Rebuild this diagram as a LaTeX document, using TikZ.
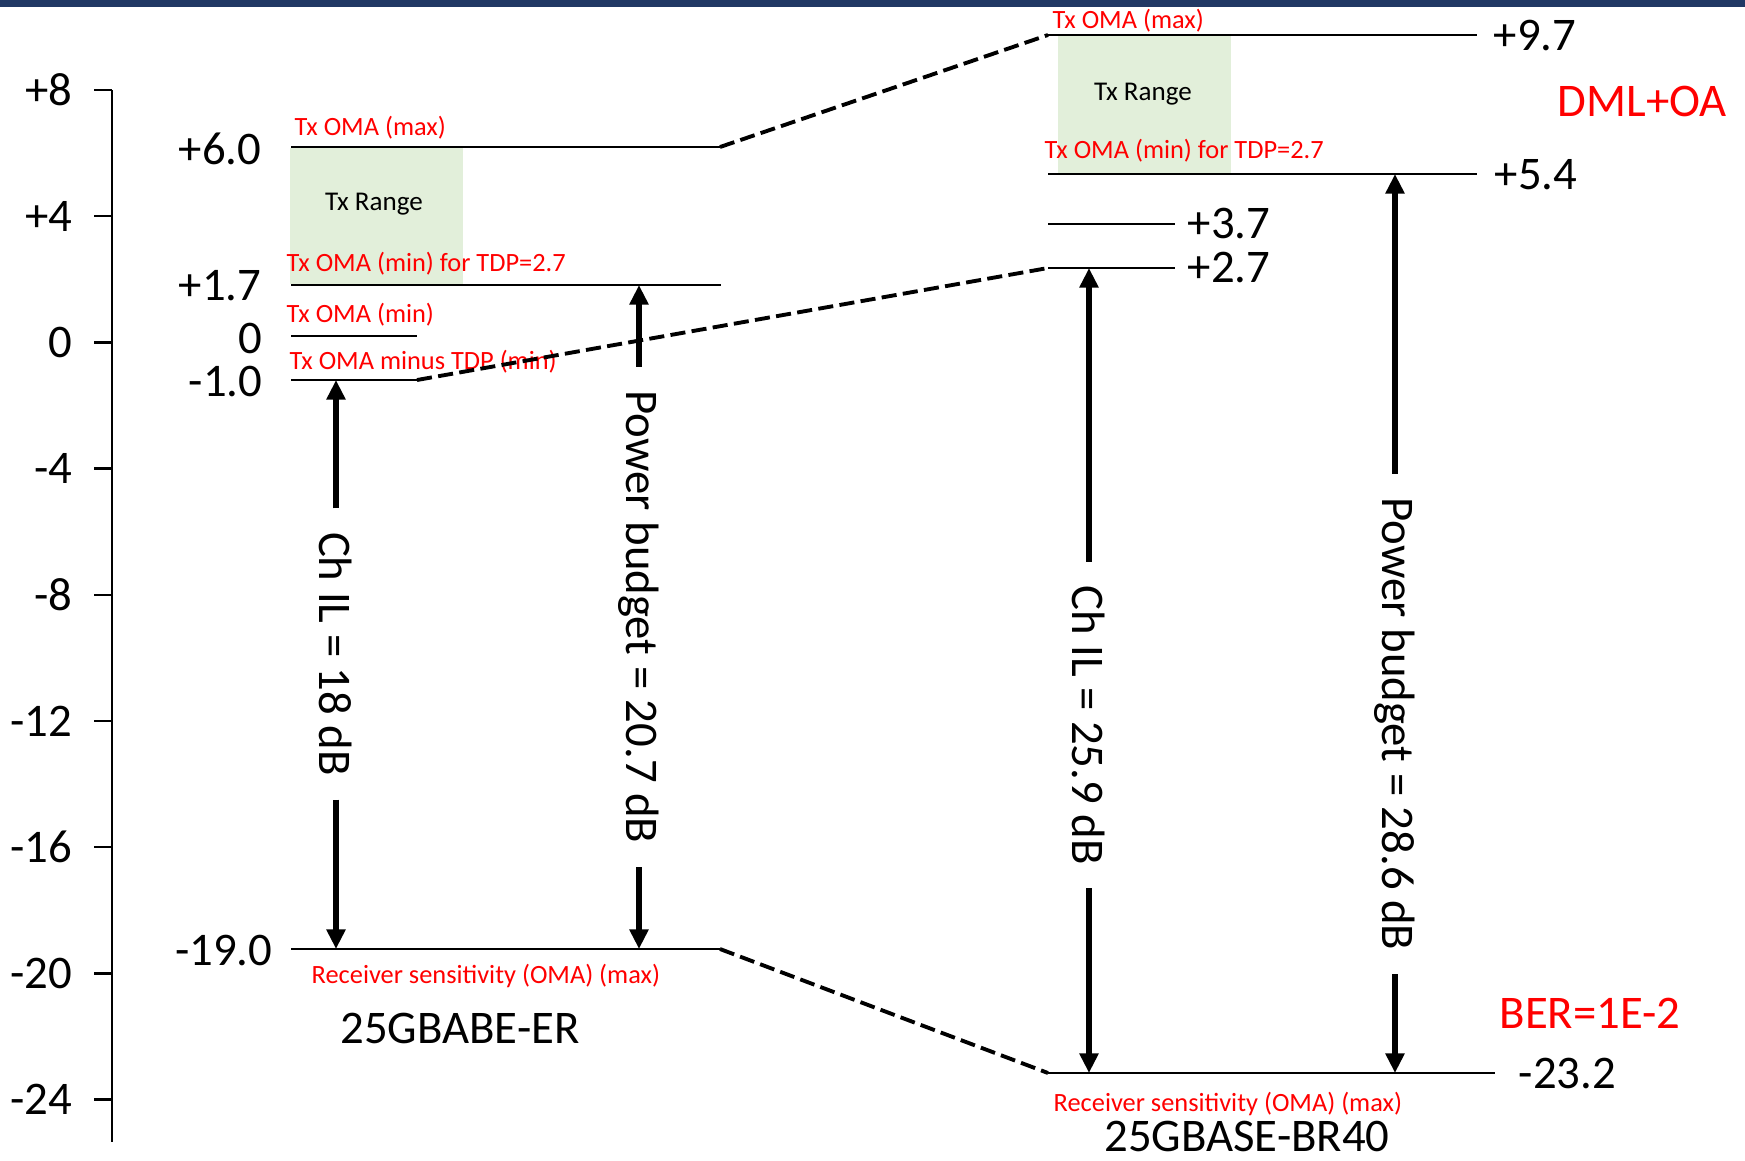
\documentclass[tikz,border=0pt]{standalone}
\usepackage{fontspec}
\setmainfont{Carlito}
\usetikzlibrary{arrows.meta}
\definecolor{barnavy}{HTML}{203864}
\definecolor{rangegreen}{HTML}{E2EFDA}

\begin{document}
\begin{tikzpicture}[x=0.01cm,y=-0.01cm,>={Triangle[width=5.2pt,length=5.6pt]},
  lvl/.style={line width=0.8pt},
  link/.style={line width=1.1pt,dash pattern=on 4.3pt off 1.8pt},
  budget/.style={line width=1.7pt,->},
  big/.style={font=\fontsize{13.3}{16}\selectfont,inner sep=0},
  tag/.style={text=red,font=\fontsize{7.5}{9}\selectfont,inner sep=0,anchor=base west},
  vlab/.style={big,rotate=-90,inner xsep=0.23cm}]
\useasboundingbox (0,0) rectangle (1745,1160);
\fill[barnavy] (0,0) rectangle (1745,7);

% dB scale
\draw[line width=0.7pt] (112,90) -- (112,1142);
\foreach \v/\t in {8/+8,4/+4,0/0,-4/-4,-8/-8,-12/-12,-16/-16,-20/-20,-24/-24}{
  \draw[line width=0.7pt] (94,{342.4-31.55*\v}) -- (112,{342.4-31.55*\v});
  \node[big,anchor=east] (tick\v) at (73,{342.4-31.55*\v}) {\t};
}

% 25GBABE-ER levels
\fill[rangegreen] (290,148) rectangle (463,284);
\draw[lvl] (291,147) -- (720,147) coordinate (er max);
\draw[lvl] (291,285) -- (721,285);
\draw[lvl] (291,336) -- (417,336);
\draw[lvl] (291,380) -- (417,380) coordinate (er minus);
\draw[lvl] (291,949) -- (720,949) coordinate (er rx);
\node[big,anchor=east] (er v60) at (262,149) {+6.0};
\node[big,anchor=east] (er v17) at (262,286) {+1.7};
\node[big,anchor=east] (er v0) at (263,338) {0};
\node[big,anchor=east] (er v10) at (263,381) {-1.0};
\node[big,anchor=east] (er v190) at (273,950) {-19.0};
\node[tag] (er t max) at (294,135) {Tx OMA (max)};
\node[tag,text=black,font=\fontsize{7.7}{9}\selectfont,anchor=base] (er range) at (374,210) {Tx Range};
\node[tag] (er t tdp) at (286,271) {Tx OMA (min) for TDP=2.7};
\node[tag] (er t min) at (286,322) {Tx OMA (min)};
\node[tag] (er t minus) at (289,369) {Tx OMA minus TDP (min)};
\node[tag] (er t rx) at (311,983) {Receiver sensitivity (OMA) (max)};
\node[big,anchor=base] (er name) at (460,1043) {25GBABE-ER};

% 25GBASE-BR40 levels
\fill[rangegreen] (1058,36) rectangle (1231,173);
\draw[lvl] (1048,35) coordinate (br max) -- (1477,35);
\draw[lvl] (1048,174) -- (1477,174);
\draw[lvl] (1048,224) -- (1175,224);
\draw[lvl] (1048,268) coordinate (br minus) -- (1175,268);
\draw[lvl] (1048,1073) coordinate (br rx) -- (1495,1073);
\node[big,anchor=west] (br v97) at (1493,36) {+9.7};
\node[big,anchor=west] (br v54) at (1494,175) {+5.4};
\node[big,anchor=west] (br v37) at (1187,223) {+3.7};
\node[big,anchor=west] (br v27) at (1187,267) {+2.7};
\node[big,anchor=west] (br v232) at (1518,1073) {-23.2};
\node[tag] (br t max) at (1052,28) {Tx OMA (max)};
\node[tag,text=black,font=\fontsize{7.7}{9}\selectfont,anchor=base] (br range) at (1143,100) {Tx Range};
\node[tag] (br t tdp) at (1044,158) {Tx OMA (min) for TDP=2.7};
\node[tag] (br t rx) at (1053,1111) {Receiver sensitivity (OMA) (max)};
\node[big,anchor=base] (br name) at (1247,1151) {25GBASE-BR40};
\node[big,anchor=base west,text=red] (dml) at (1557,116) {DML+OA};
\node[big,anchor=base west,text=red] (ber) at (1499,1028) {BER=1E-2};

% budget arrows
\coordinate (er il top) at (336,380);   \coordinate (er il bot) at (336,949);
\coordinate (er pb top) at (639,285);   \coordinate (er pb bot) at (639,949);
\coordinate (br il top) at (1089,268);  \coordinate (br il bot) at (1089,1073);
\coordinate (br pb top) at (1395,174);  \coordinate (br pb bot) at (1395,1073);
\node[vlab] (er il) at (336,654) {Ch IL = 18 dB};
\node[vlab] (er pb) at (639,617) {Power budget = 20.7 dB};
\node[vlab] (br il) at (1089,725) {Ch IL = 25.9 dB};
\node[vlab] (br pb) at (1395,724) {Power budget = 28.6 dB};
\foreach \a in {er il,er pb,br il,br pb}{
  \draw[budget] (\a.west) -- (\a\space top);
  \draw[budget] (\a.east) -- (\a\space bot);
}

% links between the two specs
\draw[link] (er max) -- (br max);
\draw[link] (er minus) -- (br minus);
\draw[link] (er rx) -- (br rx);
\end{tikzpicture}
\end{document}
